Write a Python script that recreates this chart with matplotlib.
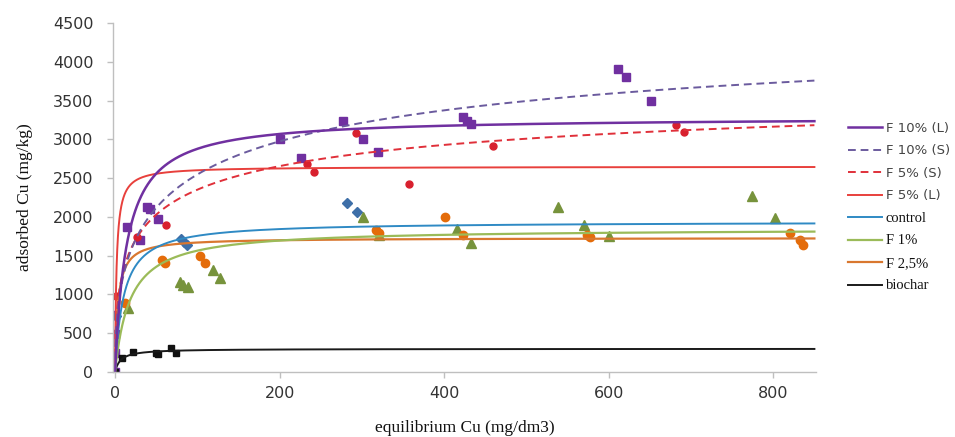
import numpy as np
import matplotlib
matplotlib.use("Agg")
import matplotlib.pyplot as plt
from matplotlib.lines import Line2D

# ---- measured points: equilibrium Cu (mg/dm3) vs adsorbed Cu (mg/kg) ----
f10_x = [0, 0.5, 0.5, 0.5, 15, 30, 39, 43, 52, 200, 226, 277, 301, 319, 423, 428, 433, 611, 621, 651]
f10_y = [0, 245, 490, 740, 1870, 1700, 2127, 2101, 1972, 3004, 2759, 3236, 3004, 2836, 3288, 3236, 3197, 3907, 3803, 3494]

f5_x = [1, 27, 62, 233, 242, 293, 357, 459, 682, 692]
f5_y = [980, 1740, 1895, 2681, 2579, 3081, 2424, 2914, 3184, 3094]

control_x = [1.5, 80, 84, 87, 282, 294]
control_y = [720, 1715, 1676, 1637, 2179, 2063]

f1_x = [16, 79, 83, 89, 119, 128, 301, 321, 416, 433, 538, 570, 600, 774, 802]
f1_y = [825, 1160, 1122, 1096, 1315, 1212, 1998, 1766, 1844, 1663, 2127, 1895, 1753, 2270, 1985]

f25_x = [12, 57, 61, 103, 109, 317, 321, 401, 423, 574, 577, 820, 832, 836]
f25_y = [890, 1444, 1405, 1495, 1405, 1830, 1792, 1998, 1766, 1766, 1740, 1792, 1702, 1637]

biochar_x = [0, 8.5, 22, 50, 52, 68, 74]
biochar_y = [0, 180, 258, 245, 232, 309, 245]

# ---- fitted isotherm parameters ----
# Langmuir: q = qmax*K*c / (1 + K*c)
lang_names = ["F 10% (L)", "F 5% (L)", "control", "F 1%", "F 2,5%", "biochar"]
lang_qmax = [3290, 2650, 1940, 1850, 1730, 300]
lang_k = [0.07, 0.55, 0.096, 0.055, 0.28, 0.15]
# Sips: q = qmax*(K*c)^n / (1 + (K*c)^n)
sips_names = ["F 10% (S)", "F 5% (S)"]
sips_qmax = [5000, 4000]
sips_k = [0.0108, 0.0213]
sips_n = [0.5, 0.47]

legend_order = ["F 10% (L)", "F 10% (S)", "F 5% (S)", "F 5% (L)",
                "control", "F 1%", "F 2,5%", "biochar"]

line_style = {
    "F 10% (L)": dict(color="#7030A0", lw=1.8, ls="-"),
    "F 10% (S)": dict(color="#6B5B9E", lw=1.4, ls=(0, (4, 2.5))),
    "F 5% (S)": dict(color="#E0303A", lw=1.4, ls=(0, (4, 2.5))),
    "F 5% (L)": dict(color="#E8403C", lw=1.4, ls="-"),
    "control": dict(color="#2F8AC4", lw=1.4, ls="-"),
    "F 1%": dict(color="#9BBB59", lw=1.6, ls="-"),
    "F 2,5%": dict(color="#D9772F", lw=1.6, ls="-"),
    "biochar": dict(color="#1A1A1A", lw=1.4, ls="-"),
}

c = np.concatenate([[0.0], np.geomspace(0.01, 850, 900)])

fig = plt.figure(figsize=(9.55, 4.37), dpi=100)
ax = fig.add_axes([0.1183, 0.1487, 0.7362, 0.7983])

# scatter markers
ax.plot(f10_x, f10_y, ls="none", marker="s", ms=5.5, color="#7030A0", mec="#7030A0")
ax.plot(f5_x, f5_y, ls="none", marker="o", ms=5, color="#D8202E", mec="#D8202E")
ax.plot(control_x, control_y, ls="none", marker="D", ms=5, color="#3E6FA8", mec="#3E6FA8")
ax.plot(f1_x, f1_y, ls="none", marker="^", ms=7, color="#77933C", mec="#77933C")
ax.plot(f25_x, f25_y, ls="none", marker="o", ms=6, color="#E46C0A", mec="#E46C0A")
ax.plot(biochar_x, biochar_y, ls="none", marker="s", ms=5, color="#111111", mec="#111111")

# isotherm curves
curves = {}
for name, qm, k in zip(lang_names, lang_qmax, lang_k):
    curves[name] = qm * k * c / (1 + k * c)
for name, qm, k, n in zip(sips_names, sips_qmax, sips_k, sips_n):
    t = (k * c) ** n
    curves[name] = qm * t / (1 + t)
for name in legend_order[::-1]:
    ax.plot(c, curves[name], **line_style[name])

ax.set_xlim(-2.5, 852)
ax.set_ylim(0, 4500)
ax.set_xticks([0, 200, 400, 600, 800])
ax.set_yticks(np.arange(0, 4501, 500))
ax.set_yticklabels([f"{v:d}" for v in range(0, 4501, 500)])

for side in ("top", "right"):
    ax.spines[side].set_visible(False)
for side in ("left", "bottom"):
    ax.spines[side].set_color("#BFBFBF")
    ax.spines[side].set_linewidth(1.0)
ax.tick_params(axis="both", colors="#BFBFBF", length=4, width=1, labelcolor="#333333",
               labelsize=11.5)
for lab in ax.get_xticklabels() + ax.get_yticklabels():
    lab.set_family("DejaVu Sans")
ax.tick_params(axis="y", pad=10)
ax.tick_params(axis="x", pad=6)

ax.set_xlabel("equilibrium Cu (mg/dm3)", family="Liberation Serif", fontsize=12.5,
              color="#111111", labelpad=14)
ax.set_ylabel("adsorbed Cu (mg/kg)", family="Liberation Serif", fontsize=12.5,
              color="#111111", labelpad=14)

handles = [Line2D([], [], **line_style[n]) for n in legend_order]
leg = fig.legend(handles, legend_order, loc="upper left", bbox_to_anchor=(0.882, 0.733),
                 frameon=False, fontsize=9.5, handlelength=2.6, handletextpad=0.3,
                 labelspacing=0.72, borderaxespad=0)
for i, txt in enumerate(leg.get_texts()):
    if i < 4:
        txt.set_family("DejaVu Sans")
        txt.set_color("#444444")
        txt.set_fontsize(9.5)
    else:
        txt.set_family("Liberation Serif")
        txt.set_color("#111111")
        txt.set_fontsize(10.5)

fig.savefig("out.png", dpi=100)
